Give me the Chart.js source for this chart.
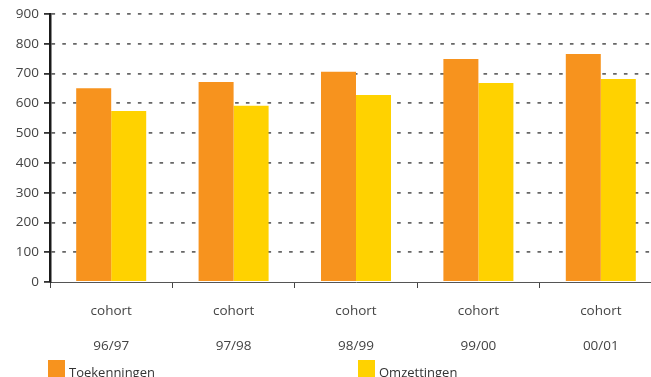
<!DOCTYPE html>
<html>
<head>
<meta charset="utf-8">
<script src="https://cdn.jsdelivr.net/npm/chart.js@4"></script>
<style>
	html, body { margin: 0; padding: 0; background: #fff; overflow: hidden; width: 651px; height: 377px; }
	#wrap { position: relative; width: 651px; height: 377px; overflow: hidden; }
	#chart { position: absolute; left: 0; top: 0; }
	.lg { position: absolute; top: 360px; font: 13px "Open Sans", sans-serif; color: #333; white-space: nowrap; }
	.lg i { position: absolute; left: 0; top: 0; width: 17px; height: 17px; }
	.lg span { position: absolute; left: 21px; top: 2px; line-height: 20px; }
</style>
</head>
<body>
<div id="wrap">
	<canvas id="chart" width="663" height="377"></canvas>
	<div class="lg" style="left:48px"><i style="background:#F7931E"></i><span>Toekenningen</span></div>
	<div class="lg" style="left:358px"><i style="background:#FFD200"></i><span>Omzettingen</span></div>
</div>
<script>
const cohorts = ['96/97', '97/98', '98/99', '99/00', '00/01'];
const toekenningen = [651, 672, 706, 749, 766];
const omzettingen = [574, 592, 628, 668, 682];
const yMax = 900;
const yStep = 100;

const chartElement = document.querySelector('#chart');

new Chart(chartElement, {
	type: 'bar',
	data: {
		labels: cohorts.map(c => ['cohort', c]),
		datasets: [
			{ label: 'Toekenningen', data: toekenningen, backgroundColor: '#F7931E' },
			{ label: 'Omzettingen', data: omzettingen, backgroundColor: '#FFD200' },
		],
	},
	options: {
		responsive: false,
		animation: false,
		devicePixelRatio: 1,
		layout: { padding: { top: 14, right: 1, left: 0, bottom: 0 } },
		datasets: { bar: { categoryPercentage: 0.572, barPercentage: 1 } },
		plugins: { legend: { display: false }, tooltip: { enabled: false } },
		scales: {
			x: {
				afterFit: scale => { scale.height = 95; },
				grid: { offset: true, drawOnChartArea: false, tickLength: 6, tickColor: '#444', lineWidth: 1 },
				border: { color: '#555', width: 1 },
				ticks: {
					padding: 6,
					color: '#444',
					maxRotation: 0,
					font: { family: 'Open Sans', size: 13.5, lineHeight: 2.6 },
				},
			},
			y: {
				min: 0,
				max: yMax,
				afterFit: scale => { scale.width = 50; },
				grid: {
					color: ctx => ctx.tick && ctx.tick.value === 0 ? 'rgba(0,0,0,0)' : '#666',
					lineWidth: 1.8,
					tickLength: 6,
					tickColor: '#333',
					tickBorderDash: [],
				},
				border: { color: '#1a1a1a', width: 2.5, dash: [3.6, 7.2] },
				ticks: {
					stepSize: yStep,
					padding: 5,
					color: '#444',
					font: { family: 'Open Sans', size: 13.5 },
				},
			},
		},
	},
});
</script>
</body>
</html>
